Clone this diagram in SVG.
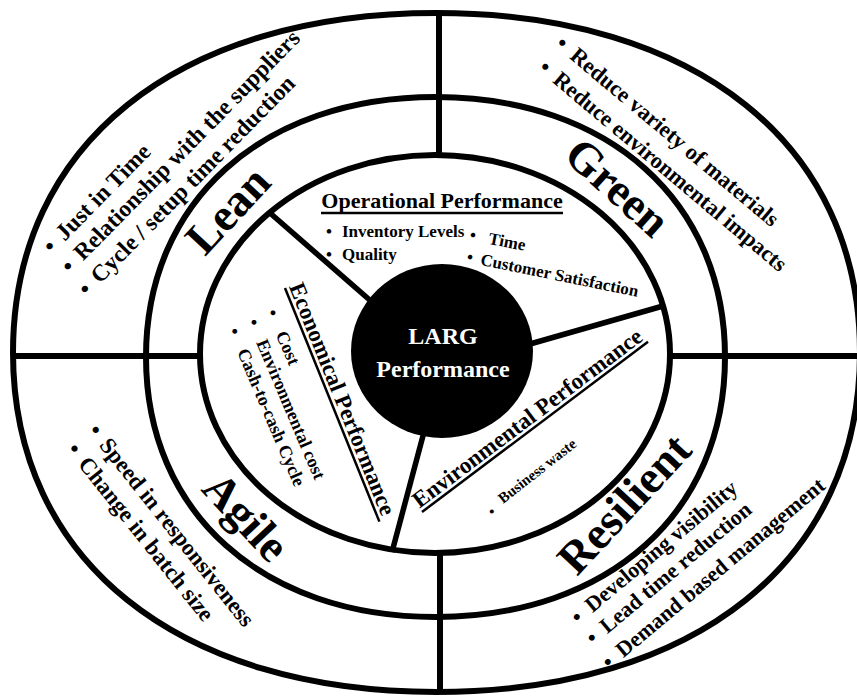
<svg xmlns="http://www.w3.org/2000/svg" width="857" height="698" viewBox="0 0 857 698">
<style>
.ring{fill:none;stroke:#000;stroke-width:6}
.ln{stroke:#000;stroke-width:6;fill:none}
.sp{stroke:#000;stroke-width:5.5;fill:none}
.ul{stroke:#000;stroke-width:2.5}
text{font-family:"Liberation Serif","Times New Roman",serif;font-weight:bold;fill:#000}
.big{font-size:46px}
.out{font-size:22px}
.outG{font-size:22.5px}
.outA{font-size:23px}
.outL{font-size:23.5px}
.head{font-size:22px}
.head2{font-size:23px}
.item{font-size:17px}
.item2{font-size:18px}
.small{font-size:15px}
.ctr{font-size:24px;fill:#fff;text-anchor:middle}
</style>
<rect width="857" height="698" fill="#fff"/>
<g id="rings">
<path class="ring" d="M 860 352.5 C 860 560.4, 695.9 692, 436.5 692 C 177.1 692, 13 560.4, 13 352.5 C 13 144.6, 177.1 13, 436.5 13 C 695.9 13, 860 144.6, 860 352.5 Z"/>
<path class="ring" d="M 725 357 C 725 512.6, 608.7 617, 435.5 617 C 262.3 617, 146 512.6, 146 357 C 146 201.4, 262.3 97, 435.5 97 C 608.7 97, 725 201.4, 725 357 Z"/>
<ellipse class="ring" cx="435" cy="354" rx="235" ry="199"/>
</g>
<g id="connectors">
<line class="ln" x1="13" y1="356" x2="200" y2="356"/>
<line class="ln" x1="670" y1="356" x2="860" y2="356"/>
<line class="ln" x1="439" y1="13" x2="439" y2="155"/>
<line class="ln" x1="440" y1="553" x2="440" y2="692"/>
<line class="sp" x1="270" y1="213" x2="372" y2="302"/>
<line class="sp" x1="530" y1="344" x2="663" y2="306"/>
<line class="sp" x1="424" y1="432" x2="392" y2="552"/>
</g>
<g id="center">
<ellipse cx="442" cy="351" rx="91" ry="87" fill="#000"/>
<text class="ctr" x="443" y="344">LARG</text>
<text class="ctr" x="443" y="377">Performance</text>
</g>
<g id="operational">
<text class="head" x="442" y="208" text-anchor="middle">Operational Performance</text>
<line class="ul" x1="321" y1="213" x2="563" y2="213"/>
<text class="item" x="326" y="237">•<tspan x="342">Inventory Levels</tspan></text>
<text class="item" x="326" y="260">•<tspan x="342">Quality</tspan></text>
<g transform="translate(469,240) rotate(11)"><text class="item" x="0" y="0">•<tspan x="19">Time</tspan></text></g>
<g transform="translate(466,262) rotate(11.5)"><text class="item" x="0" y="0">•<tspan x="14">Customer Satisfaction</tspan></text></g>
</g>
<g id="economical">
<g transform="translate(288.7,286.5) rotate(68)">
<text class="head2" x="0" y="0">Economical Performance</text>
<line class="ul" x1="0" y1="4" x2="252" y2="4"/>
</g>
<g transform="translate(266.2,312.2) rotate(67)">
<text class="item2" x="0" y="0">•<tspan x="24">Cost</tspan></text>
<text class="item2" x="1.3" y="21.2">•<tspan x="24">Environmental cost</tspan></text>
<text class="item2" x="2.2" y="42.4">•<tspan x="25">Cash-to-cash Cycle</tspan></text>
</g>
</g>
<g id="environmental">
<g transform="translate(419.6,508.8) rotate(-37)">
<text class="head2" x="0" y="0">Environmental Performance</text>
<line class="ul" x1="0" y1="4" x2="283" y2="4"/>
</g>
<g transform="translate(503,504) rotate(-38)">
<text class="small" x="-16" y="4">•</text>
<text class="small" x="0" y="0">Business waste</text>
</g>
</g>
<g id="lean">
<text class="big" transform="translate(205,257) rotate(-47)">Lean</text>
<g transform="translate(52.2,254.6) rotate(-45.5)">
<text class="outL" x="0" y="0">•<tspan x="18">Just in Time</tspan></text>
<text class="outL" x="-1.4" y="26.9">•<tspan x="16.6">Relationship with the suppliers</tspan></text>
<text class="outL" x="-5.7" y="55.1">•<tspan x="12.3">Cycle / setup time reduction</tspan></text>
</g>
</g>
<g id="green">
<text class="big" transform="translate(562,158) rotate(42)">Green</text>
<g transform="translate(554.5,45.9) rotate(40)">
<text class="outG" x="0" y="0">•<tspan x="18.5">Reduce variety of materials</tspan></text>
<text class="outG" x="2.4" y="29.3">•<tspan x="20.9">Reduce environmental impacts</tspan></text>
</g>
</g>
<g id="agile">
<text class="big" transform="translate(200,490) rotate(47)">Agile</text>
<g transform="translate(87.2,431.4) rotate(51.5)">
<text class="outA" x="0" y="0">•<tspan x="18">Speed in responsiveness</tspan></text>
<text class="outA" x="1.6" y="28.3">•<tspan x="19.6">Change in batch size</tspan></text>
</g>
</g>
<g id="resilient">
<text class="big" transform="translate(577,577) rotate(-47)">Resilient</text>
<g transform="translate(578.6,624.9) rotate(-40)">
<text class="out" x="0" y="0">•<tspan x="18">Developing visibility</tspan></text>
<text class="out" x="-2" y="25.7">•<tspan x="16">Lead time reduction</tspan></text>
<text class="out" x="-5.2" y="54.4">•<tspan x="12.8">Demand based management</tspan></text>
</g>
</g>
</svg>
